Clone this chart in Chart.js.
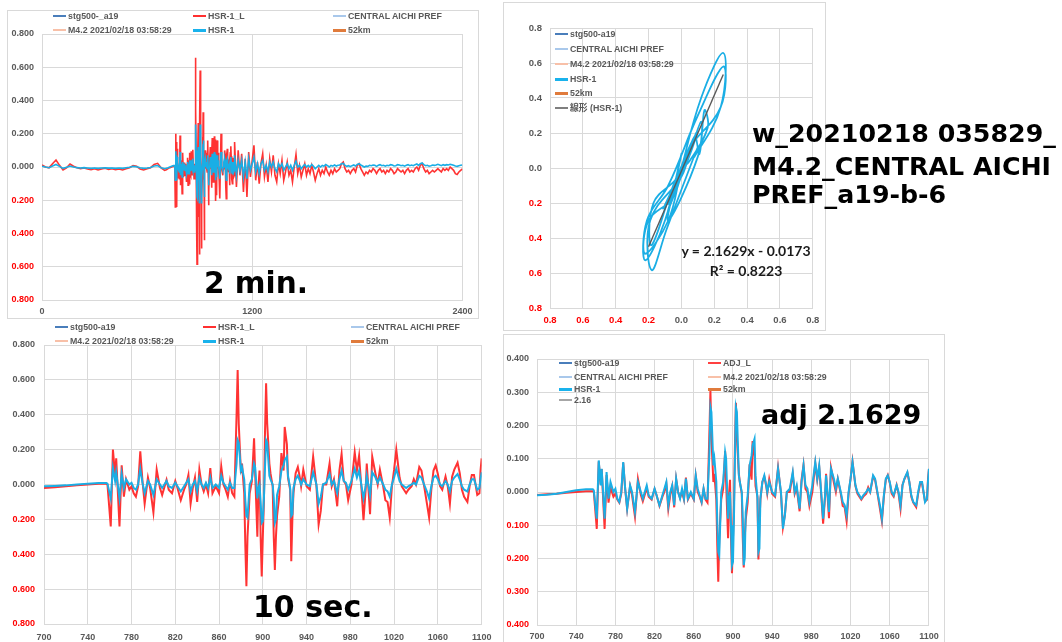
<!DOCTYPE html>
<html>
<head>
<meta charset="utf-8">
<script src="https://cdn.jsdelivr.net/npm/chart.js@4.4.1/dist/chart.umd.min.js"></script>
<style>
body{margin:0;background:#fff;}
#page{position:relative;width:1062px;height:642px;overflow:hidden;background:#fff;}
.frame{position:absolute;border:1px solid #d9d9d9;box-sizing:border-box;}
canvas{position:absolute;}
.leg{position:absolute;height:10px;font:bold 8.8px "Liberation Sans",Arial,"Noto Sans CJK JP",sans-serif;color:#595959;white-space:nowrap;line-height:10px;}
.leg i{position:absolute;left:0;top:4px;width:13px;height:2px;}
.leg span{position:absolute;left:15px;top:0;}
.big{position:absolute;font-family:"DejaVu Sans",sans-serif;font-weight:bold;color:#000;line-height:1;white-space:nowrap;}
.eq{position:absolute;font-family:Lato,sans-serif;font-weight:bold;font-size:14px;color:#1a1a1a;line-height:1;width:200px;text-align:center;white-space:nowrap;}
</style>
</head>
<body>
<div id="page">
  <div class="frame" style="left:7px;top:10px;width:472px;height:309px"></div>
  <div class="frame" style="left:503px;top:2px;width:323px;height:329px"></div>
  <div class="frame" style="left:503px;top:334px;width:442px;height:320px"></div>
  <canvas id="c2min"></canvas>
  <canvas id="cxy"></canvas>
  <canvas id="c10s"></canvas>
  <canvas id="cadj"></canvas>

  <div class="big" style="left:204px;top:269px;font-size:29.5px">2 min.</div>
  <div class="big" style="left:253px;top:591.6px;font-size:30px">10 sec.</div>
  <div class="big" style="left:761px;top:401.2px;font-size:27px">adj 2.1629</div>
  <div class="big" style="left:752px;top:121.3px;font-size:25.3px">w_20210218 035829_</div>
  <div class="big" style="left:752px;top:153.6px;font-size:25.3px">M4.2_CENTRAL AICHI</div>
  <div class="big" style="left:752px;top:182.1px;font-size:25.3px">PREF_a19-b-6</div>
  <div class="eq" style="left:646px;top:244.3px">y = 2.1629x - 0.0173</div>
  <div class="eq" style="left:646px;top:264.3px">R² = 0.8223</div>
</div>
<script>
"use strict"

/*====================================================================
Data  (sample index at 20 Hz, acceleration)
====================================================================*/
function steps(a, b, d){
    var out = []
    for (let v = a; v <= b; v += d) out.push(v)
    return out
}

// before the event, 0 - 680
const preIdx = steps(0, 680, 20)
const preL = [0.012, 0.0, -0.005, 0.02, 0.042, 0.01, -0.018, -0.005, 0.018, 0.005,
    -0.004, -0.01, -0.006, -0.012, -0.016, -0.01, -0.018, -0.012, -0.008, -0.014,
    -0.01, -0.016, -0.012, -0.018, -0.01, -0.004, 0.008, 0.004, -0.012, -0.018,
    -0.01, -0.004, 0.015, 0.022, -0.005]
const preH = [0.005, 0.0, -0.004, 0.006, 0.015, 0.004, -0.008, -0.002, 0.006, 0.0,
    -0.004, -0.006, -0.004, -0.006, -0.008, -0.006, -0.008, -0.006, -0.005, -0.007,
    -0.006, -0.008, -0.006, -0.008, -0.005, -0.002, 0.004, 0.002, -0.005, -0.008,
    -0.006, -0.003, 0.006, 0.009, -0.004]

// the 10 sec. window, 700 - 1100
const winIdx = [700,710,720,730,740,750,757,758,761,763,
    765,766,769,771,773,775,778,780,782,784,
    786,788,790,792,795,797,800,803,806,808,
    812,814,817,820,822,825,828,830,832,834,
    836,838,840,842,844,846,848,850,852,854,
    857,860,862,864,866,868,870,872,874,876,877,878,
    880,881,883,884,885,886,888,890,892,893,895,896,
    897,898,899,900,901,902,903,904,906,907,909,910,911,912,913,915,
    917,919,920,922,923,925,926,927,928,930,932,
    934,935,937,940,943,946,949,951,953,955,
    958,961,963,965,968,970,972,974,976,978,
    981,984,986,988,990,992,994,995,997,998,
    1000,1003,1005,1007,1010,1012,1014,1016,1018,1020,
    1022,1025,1027,1029,1031,1033,1036,1038,1040,1043,
    1045,1048,1050,1052,1054,1056,1058,1060,1062,1064,
    1067,1069,1071,1073,1075,1078,1080,1082,1084,1087,
    1089,1091,1093,1096,1098,1099,1100]
const winL = [-0.02,-0.016,-0.01,-0.004,0.0,0.004,0.004,0.0,-0.24,0.2,
    0.05,0.15,-0.24,0.11,-0.07,0.03,-0.03,-0.01,-0.05,-0.07,
    -0.01,0.19,0.02,-0.11,0.04,-0.02,-0.16,0.085,-0.02,-0.06,
    0.027,-0.03,-0.05,0.02,-0.02,-0.09,-0.03,0.0,0.055,-0.11,
    -0.02,0.04,-0.1,0.085,0.0,-0.04,0.0,-0.05,0.094,-0.05,
    -0.01,-0.05,0.104,0.0,-0.03,-0.07,0.02,-0.05,-0.07,0.4,0.657,0.35,
    0.065,0.12,-0.05,-0.35,-0.584,-0.3,-0.05,0.02,0.265,0.065,-0.3,-0.01,
    0.08,-0.3,-0.527,-0.3,-0.1,0.3,0.58,0.35,0.12,0.065,-0.01,-0.3,-0.49,-0.3,-0.18,-0.07,
    0.18,0.08,0.33,0.23,0.04,-0.03,-0.44,-0.2,-0.05,0.065,0.1,
    0.035,-0.01,0.085,-0.01,-0.03,0.16,-0.01,-0.23,-0.15,0.0,
    0.0,0.12,-0.01,0.03,-0.125,0.08,0.175,0.02,0.0,-0.09,
    0.0,0.185,0.08,0.165,-0.01,-0.205,-0.03,0.12,-0.07,-0.17,
    0.16,0.06,0.0,0.085,-0.01,-0.09,-0.1,-0.19,-0.01,0.085,
    0.2,0.04,-0.01,-0.03,-0.05,-0.03,-0.01,0.03,0.0,0.1,
    0.08,-0.03,-0.11,-0.19,-0.03,0.08,0.11,0.06,-0.01,-0.03,
    0.045,-0.01,-0.11,0.045,0.085,0.125,0.065,-0.03,-0.07,-0.1,
    -0.01,0.055,0.055,-0.06,-0.05,0.08,0.15]
const winH = [-0.01,-0.008,-0.005,0.0,0.005,0.008,0.008,0.005,-0.08,0.095,
    0.02,0.07,-0.08,0.06,-0.02,0.03,0.0,0.01,-0.02,-0.03,
    0.0,0.09,0.01,-0.05,0.02,0.0,-0.06,0.03,0.0,-0.02,
    0.02,-0.01,-0.02,0.01,-0.01,-0.04,-0.01,0.01,0.03,-0.04,
    0.0,0.02,-0.04,0.04,0.0,-0.02,0.01,-0.02,0.04,-0.02,
    0.0,-0.02,0.05,0.01,-0.01,-0.03,0.01,-0.02,-0.02,0.12,0.255,0.24,
    0.08,0.1,0.03,-0.09,-0.18,-0.19,0.0,0.03,0.12,0.1,-0.08,-0.02,
    0.0,-0.1,-0.22,-0.21,-0.08,0.1,0.255,0.24,0.05,0.03,0.0,-0.08,-0.22,-0.2,-0.06,-0.01,
    0.08,0.11,0.14,0.16,0.05,-0.02,-0.18,-0.17,-0.02,0.03,0.05,
    0.02,0.0,0.03,0.0,-0.01,0.07,0.0,-0.11,-0.07,0.0,
    0.01,0.06,0.0,0.02,-0.05,0.03,0.08,0.02,0.01,-0.03,
    0.02,0.09,0.04,0.08,0.0,-0.08,-0.01,0.05,-0.02,-0.06,
    0.07,0.04,0.01,0.04,0.0,-0.03,-0.04,-0.07,0.0,0.04,
    0.09,0.02,0.0,-0.01,-0.02,-0.01,0.0,0.01,0.0,0.05,
    0.04,-0.01,-0.04,-0.08,-0.01,0.04,0.05,0.03,0.0,-0.01,
    0.02,0.0,-0.04,0.02,0.04,0.06,0.03,-0.01,-0.03,-0.04,
    0.0,0.03,0.03,-0.03,-0.02,0.03,0.07]
// ADJ_L
const winAdj = [-0.009,-0.007,-0.005,-0.002,0.0,0.002,0.002,0.0,-0.111,0.092,
    0.023,0.069,-0.111,0.051,-0.032,0.014,-0.014,-0.005,-0.023,-0.032,
    -0.005,0.088,0.009,-0.051,0.018,-0.009,-0.074,0.039,-0.009,-0.028,
    0.012,-0.014,-0.023,0.009,-0.009,-0.042,-0.014,0.0,0.025,-0.051,
    -0.009,0.018,-0.046,0.039,0.0,-0.018,0.0,-0.023,0.043,-0.023,
    -0.005,-0.023,0.048,0.0,-0.014,-0.032,0.009,-0.023,-0.032,0.185,0.304,0.162,
    0.03,0.055,-0.023,-0.162,-0.27,-0.139,-0.023,0.009,0.123,0.03,-0.139,-0.005,
    0.037,-0.139,-0.244,-0.139,-0.046,0.139,0.268,0.162,0.055,0.03,-0.005,-0.139,-0.227,-0.139,-0.083,-0.032,
    0.083,0.037,0.153,0.106,0.018,-0.014,-0.203,-0.092,-0.023,0.03,0.046,
    0.016,-0.005,0.039,-0.005,-0.014,0.074,-0.005,-0.106,-0.069,0.0,
    0.0,0.055,-0.005,0.014,-0.058,0.037,0.081,0.009,0.0,-0.042,
    0.0,0.086,0.037,0.076,-0.005,-0.095,-0.014,0.055,-0.032,-0.079,
    0.074,0.028,0.0,0.039,-0.005,-0.042,-0.046,-0.088,-0.005,0.039,
    0.092,0.018,-0.005,-0.014,-0.023,-0.014,-0.005,0.014,0.0,0.046,
    0.037,-0.014,-0.051,-0.088,-0.014,0.037,0.051,0.028,-0.005,-0.014,
    0.021,-0.005,-0.051,0.021,0.039,0.058,0.03,-0.014,-0.032,-0.046,
    -0.005,0.025,0.025,-0.028,-0.023,0.037,0.069]

// after the window, 1110 - 2400
const postIdx = steps(1110, 2400, 10)
const postL = [-0.12, 0.1, -0.05, 0.08, -0.15, 0.05, -0.18, 0.09, -0.06, 0.04,
    0.13, -0.08, 0.03, -0.1, 0.02, 0.08, -0.06, 0.01, -0.09, 0.05,
    -0.03, 0.07, -0.05, -0.09, 0.02, -0.04, 0.04, -0.08, -0.03, 0.03,
    -0.05, -0.02, -0.09, 0.0, 0.075, -0.04, 0.01, -0.06, -0.02, 0.02,
    -0.05, -0.01, -0.04, 0.01, -0.03, -0.08, -0.04, -0.01, -0.05, -0.02,
    -0.04, 0.0, -0.03, -0.05, -0.02, -0.04, -0.01, -0.03, -0.02, -0.01,
    0.02, 0.03, -0.01, -0.03, -0.02, -0.04, -0.02, -0.01, -0.03, 0.01,
    0.02, -0.01, -0.03, -0.05, -0.03, -0.04, -0.02, -0.03, -0.01, -0.02,
    -0.04, -0.02, -0.01, -0.03, -0.02, -0.04, -0.02, -0.03, -0.01, -0.02,
    -0.04, -0.03, -0.01, -0.02, -0.03, -0.02, -0.04, -0.02, -0.01, -0.03,
    -0.02, -0.03, -0.01, 0.0, -0.02, 0.01, 0.02, -0.01, -0.03, -0.02,
    -0.04, -0.03, -0.02, -0.03, -0.02, -0.01, -0.02, -0.03, -0.01, -0.02,
    -0.01, -0.02, 0.0, -0.01, -0.02, -0.04, -0.045, -0.03, -0.02, -0.012]
const postH = [-0.05, 0.04, -0.02, 0.04, -0.06, 0.03, -0.07, 0.05, -0.02, 0.02,
    0.06, -0.03, 0.02, -0.04, 0.02, 0.04, -0.02, 0.01, -0.03, 0.03,
    0.0, 0.03, -0.01, -0.03, 0.02, 0.0, 0.02, -0.02, 0.0, 0.02,
    -0.01, 0.01, -0.02, 0.01, 0.035, 0.0, 0.01, -0.01, 0.005, 0.015,
    0.0, 0.01, 0.0, 0.015, 0.005, -0.01, 0.0, 0.01, 0.0, 0.01,
    0.005, 0.015, 0.008, 0.0, 0.01, 0.005, 0.012, 0.006, 0.01, 0.012,
    0.02, 0.022, 0.01, 0.004, 0.008, 0.002, 0.008, 0.012, 0.006, 0.015,
    0.02, 0.012, 0.006, 0.0, 0.005, 0.004, 0.01, 0.008, 0.012, 0.01,
    0.004, 0.01, 0.014, 0.008, 0.01, 0.005, 0.01, 0.008, 0.014, 0.012,
    0.006, 0.008, 0.014, 0.012, 0.008, 0.01, 0.005, 0.01, 0.014, 0.008,
    0.012, 0.008, 0.014, 0.018, 0.01, 0.02, 0.024, 0.014, 0.008, 0.01,
    0.005, 0.008, 0.012, 0.01, 0.012, 0.016, 0.012, 0.008, 0.014, 0.01,
    0.014, 0.012, 0.016, 0.014, 0.01, 0.006, 0.004, 0.008, 0.01, 0.012]

// linear trend of HSR-1_L on HSR-1
const trendX = [-0.2, 0.255]
const trendY = [-0.45, 0.534]

// legend entries [label, colour]
const legTL = [["stg500-_a19", "#4a7ebb"], ["HSR-1_L", "#ff3030"], ["CENTRAL AICHI PREF", "#a9c8eb"],
    ["M4.2 2021/02/18 03:58:29", "#f8c0a8"], ["HSR-1", "#19b2ec"], ["52km", "#e07b3c"]]
const legBL = [["stg500-a19", "#4a7ebb"], ["HSR-1_L", "#ff3030"], ["CENTRAL AICHI PREF", "#a9c8eb"],
    ["M4.2 2021/02/18 03:58:29", "#f8c0a8"], ["HSR-1", "#19b2ec"], ["52km", "#e07b3c"]]
const legXY = [["stg500-a19", "#4a7ebb"], ["CENTRAL AICHI PREF", "#a9c8eb"], ["M4.2 2021/02/18 03:58:29", "#f8c0a8"],
    ["HSR-1", "#19b2ec"], ["52km", "#e07b3c"], ["線形 (HSR-1)", "#7f7f7f"]]
const legADJ = [["stg500-a19", "#4a7ebb"], ["CENTRAL AICHI PREF", "#a9c8eb"], ["HSR-1", "#19b2ec"], ["2.16", "#a6a6a6"],
    ["ADJ_L", "#ff4040"], ["M4.2 2021/02/18 03:58:29", "#f8c0a8"], ["52km", "#e07b3c"]]

/*====================================================================
Functions
====================================================================*/
const GRID = "#d9d9d9", GREY = "#595959", NEG = "#ff0000"
const RED = "#ff3333", BLUE = "#1aaee5"

function pts(xs, ys){
    return xs.map((x, i) => ({x: x, y: ys[i]}))
}

// excel style axis: grey grid, negative labels red without minus sign
function axis(min, max, step, dec, pad, size){
    return {
        type: "linear", min: min, max: max,
        grid: {color: GRID, lineWidth: 1, drawTicks: false},
        border: {color: GRID},
        ticks: {
            stepSize: step, autoSkip: false, maxRotation: 0, padding: pad,
            font: {family: "'Liberation Sans', Arial, sans-serif", size: size || 9, weight: "bold"},
            color: c => (c.tick && c.tick.value < -1e-9) ? NEG : GREY,
            callback: v => Math.abs(v).toFixed(dec)
        }
    }
}

function makeChart(id, box, plot, type, datasets, xAx, yAx){
    const cv = document.getElementById(id)
    cv.width = box.w
    cv.height = box.h
    cv.style.left = box.l + "px"
    cv.style.top = box.t + "px"
    xAx.afterFit = s => { s.height = box.t + box.h - plot.b }
    yAx.afterFit = s => { s.width = plot.l - box.l }
    return new Chart(cv, {
        type: type,
        data: {datasets: datasets},
        options: {
            responsive: false, animation: false, devicePixelRatio: 1,
            layout: {autoPadding: false, padding: {left: 0, bottom: 0, top: plot.t - box.t, right: box.l + box.w - plot.r}},
            plugins: {legend: {display: false}, tooltip: {enabled: false}},
            elements: {point: {radius: 0}},
            scales: {x: xAx, y: yAx}
        }
    })
}

function line(data, color, width, tension){
    return {data: data, borderColor: color, backgroundColor: color, borderWidth: width,
        pointRadius: 0, tension: tension || 0, fill: false, showLine: true}
}

function legend(items, places){
    const page = document.getElementById("page")
    items.forEach((it, i) => {
        const d = document.createElement("div")
        d.className = "leg"
        d.style.left = places[i][0] + "px"
        d.style.top = (places[i][1] - 5) + "px"
        const thick = (it[0] === "HSR-1" || it[0] === "52km") ? 2.5 : 2
        d.innerHTML = '<i style="background:' + it[1] + ';height:' + thick + 'px"></i><span></span>'
        d.querySelector("span").textContent = it[0]
        page.appendChild(d)
    })
}

/*====================================================================
Charts
====================================================================*/
const allIdx = preIdx.concat(winIdx, postIdx)
const allL = preL.concat(winL, postL)
const allH = preH.concat(winH, postH)

// 2 min.
makeChart("c2min", {l: 7, t: 10, w: 472, h: 309}, {l: 42, t: 34, r: 466, b: 300}, "line",
    [line(pts(allIdx, allH), BLUE, 1.6), line(pts(allIdx, allL), RED, 1.6)],
    axis(0, 2400, 1200, 0, 6.6), axis(-0.8, 0.8, 0.2, 3, 8))

// HSR-1 vs HSR-1_L
makeChart("cxy", {l: 503, t: 2, w: 323, h: 329}, {l: 550, t: 28, r: 815, b: 308}, "scatter",
    [line(pts(trendX, trendY), "#595959", 1.4), line(pts(winH, winL), BLUE, 1.8, 0.4)],
    axis(-0.8, 0.8, 0.2, 1, 6.6, 9.5), axis(-0.8, 0.8, 0.2, 1, 8, 9.5))

// 10 sec.
makeChart("c10s", {l: 7, t: 320, w: 493, h: 322}, {l: 44, t: 345, r: 488, b: 624}, "line",
    [line(pts(winIdx, winH), BLUE, 2), line(pts(winIdx, winL), RED, 2)],
    axis(700, 1100, 40, 0, 8.6), axis(-0.8, 0.8, 0.2, 3, 9))

// adj 2.1629
makeChart("cadj", {l: 503, t: 334, w: 442, h: 308}, {l: 537, t: 359, r: 932, b: 625}, "line",
    [line(pts(winIdx, winH), BLUE, 2), line(pts(winIdx, winAdj), RED, 2)],
    axis(700, 1100, 40, 0, 6.3), axis(-0.4, 0.4, 0.1, 3, 8))

legend(legTL, [[53, 16], [193, 16], [333, 16], [53, 30], [193, 30], [333, 30]])
legend(legBL, [[55, 327], [203, 327], [351, 327], [55, 341], [203, 341], [351, 341]])
legend(legXY, [[555, 34], [555, 49], [555, 64], [555, 79], [555, 93], [555, 108]])
legend(legADJ, [[559, 363], [559, 377], [559, 389], [559, 400], [708, 363], [708, 377], [708, 389]])
</script>
</body>
</html>
